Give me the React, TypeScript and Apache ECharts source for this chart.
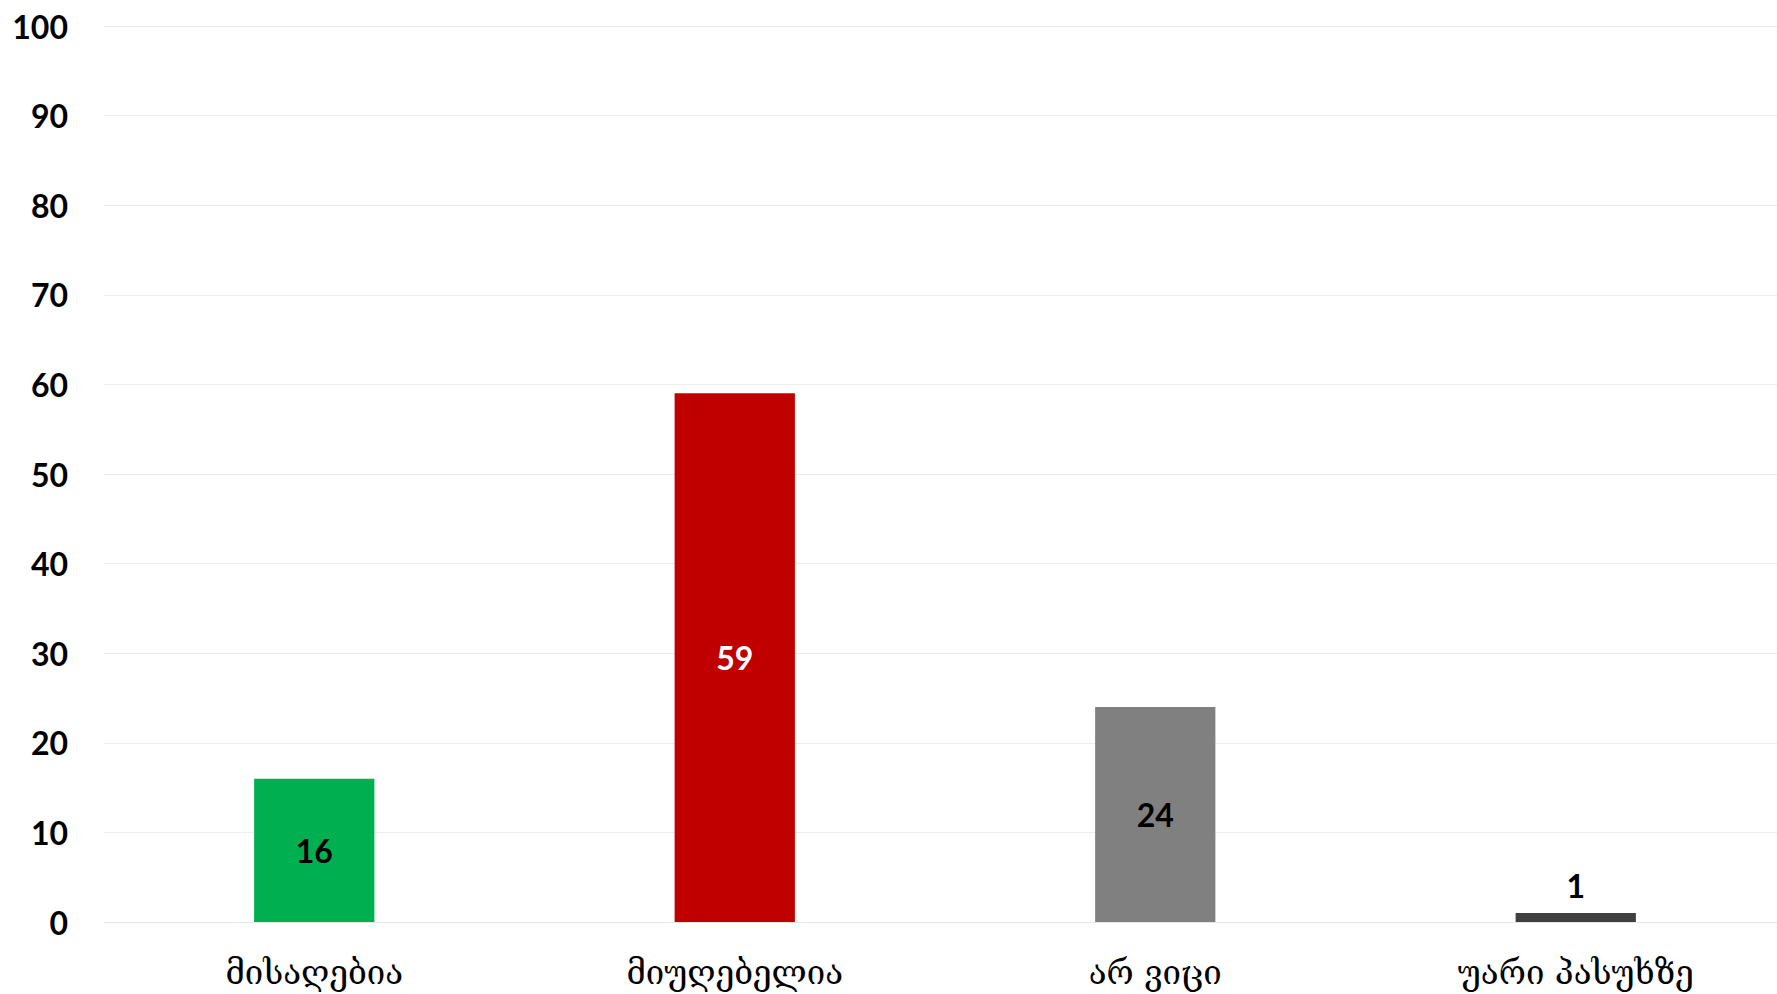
import React, { useEffect, useRef } from "react";
import * as echarts from "echarts";

const categories = ["მისაღებია", "მიუღებელია", "არ ვიცი", "უარი პასუხზე"];
const values = [16, 59, 24, 1];
const barColors = ["#00B050", "#C00000", "#808080", "#404040"];
const labelColors = ["#000000", "#FFFFFF", "#000000", "#000000"];
const labelPositions = ["inside", "inside", "inside", "top"];

export default function App() {
  const ref = useRef<HTMLDivElement>(null);
  useEffect(() => {
    document.body.style.margin = "0";
    const chart = echarts.init(ref.current!, null, { renderer: "svg" });
    chart.setOption({
      animation: false,
      grid: {
        left: 104,
        width: 1682,
        top: 26,
        bottom: 72,
        containLabel: false,
        outerBoundsMode: "none",
      },
      xAxis: {
        type: "category",
        data: categories,
        axisLine: { show: true, lineStyle: { color: "#E6E6E6", width: 1 } },
        axisTick: { show: false },
        axisLabel: {
          color: "#000",
          fontFamily: "DejaVu Serif",
          fontSize: 33,
          margin: 34,
        },
      },
      yAxis: {
        type: "value",
        min: 0,
        max: 100,
        interval: 10,
        axisLine: { show: false },
        axisTick: { show: false },
        splitLine: { lineStyle: { color: "#EDEDED", width: 1 } },
        axisLabel: {
          color: "#000",
          fontFamily: "Lato",
          fontWeight: "bold",
          fontSize: 32,
          margin: 36,
        },
      },
      series: [
        {
          type: "bar",
          barWidth: "28.6%",
          data: values.map((v, i) => ({
            value: v,
            itemStyle: { color: barColors[i] },
            label: {
              show: true,
              position: labelPositions[i],
              color: labelColors[i],
              fontFamily: "Lato",
              fontWeight: "bold",
              fontSize: 32,
              distance: 12,
            },
          })),
        },
      ],
    });
    return () => chart.dispose();
  }, []);
  return <div ref={ref} style={{ width: 1777, height: 994 }} />;
}
